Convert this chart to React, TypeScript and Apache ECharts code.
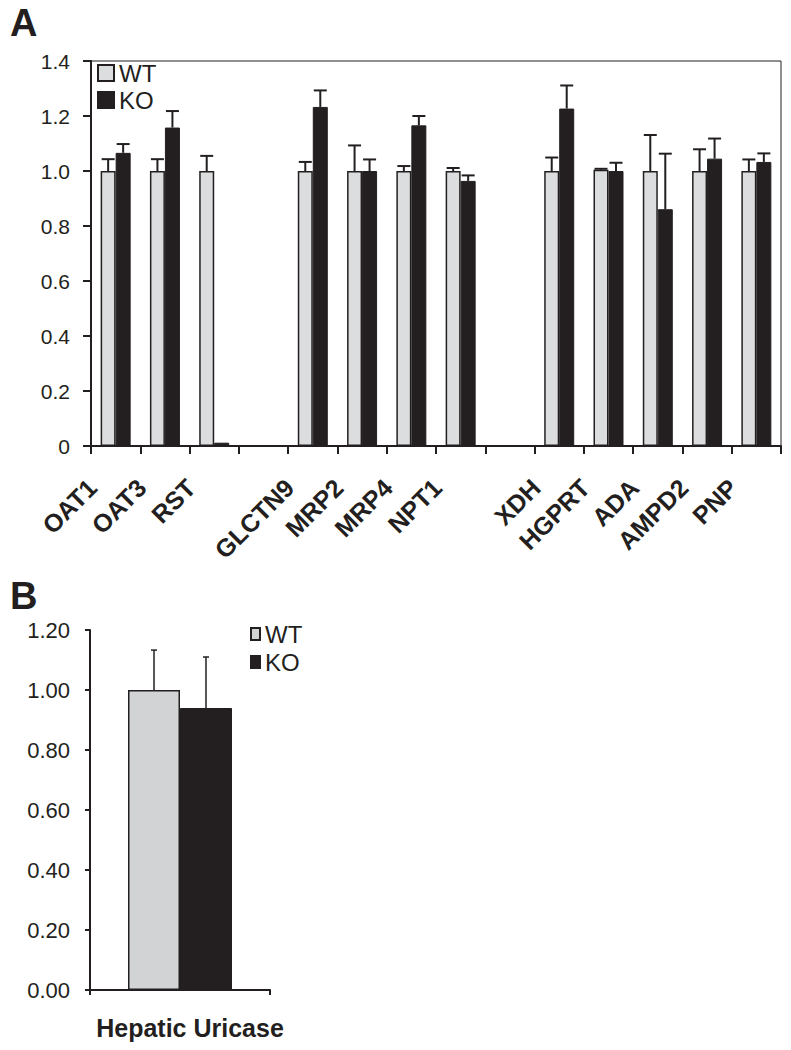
import React, { useEffect, useRef } from "react";
import * as echarts from "echarts";

// ---- Panel A data ----
const categoriesA = ["OAT1", "OAT3", "RST", "", "GLCTN9", "MRP2", "MRP4", "NPT1", "", "XDH", "HGPRT", "ADA", "AMPD2", "PNP"];
const wtA = [1.0, 1.0, 1.0, null, 1.0, 1.0, 1.0, 1.0, null, 1.0, 1.005, 1.0, 1.0, 1.0];
const wtErrA = [0.043, 0.043, 0.055, null, 0.033, 0.093, 0.018, 0.011, null, 0.049, 0.003, 0.131, 0.079, 0.042];
const koA = [1.066, 1.158, 0.012, null, 1.233, 1.0, 1.166, 0.964, null, 1.227, 1.0, 0.861, 1.045, 1.033];
const koErrA = [0.032, 0.06, 0, null, 0.06, 0.042, 0.034, 0.02, null, 0.084, 0.03, 0.202, 0.073, 0.031];
const yTicksA = { min: 0, max: 1.4, interval: 0.2 };

// ---- Panel B data ----
const categoriesB = ["Hepatic Uricase"];
const wtB = [1.0];
const wtErrB = [0.133];
const koB = [0.94];
const koErrB = [0.17];
const yTicksB = { min: 0, max: 1.2, interval: 0.2 };

const DARK = "#231f20";
const LIGHT_A = "#dcddde";
const LIGHT_B = "#d1d3d4";
const FONT = "'Liberation Sans', Arial, Helvetica, sans-serif";

function errData(means: (number | null)[], errs: (number | null)[]) {
  const out: number[][] = [];
  means.forEach((m, i) => {
    const e = errs[i];
    if (m != null && e != null && e > 0) out.push([i, m, e]);
  });
  return out;
}

function errRender(offset: number, capHalf: number, lw: number) {
  return (params: any, api: any) => {
    const x = api.value(0);
    const y = api.value(1);
    const e = api.value(2);
    const base = api.coord([x, y]);
    const top = api.coord([x, y + e]);
    const cx = base[0] + offset;
    const style = { stroke: DARK, lineWidth: lw };
    return {
      type: "group",
      children: [
        { type: "line", shape: { x1: cx, y1: base[1], x2: cx, y2: top[1] }, style },
        { type: "line", shape: { x1: cx - capHalf, y1: top[1], x2: cx + capHalf, y2: top[1] }, style },
      ],
    };
  };
}

export default function App() {
  const ref = useRef<HTMLDivElement>(null);
  useEffect(() => {
    if (!ref.current) return;
    const chart = echarts.init(ref.current, null, { renderer: "svg" });
    const option: any = {
      animation: false,
      backgroundColor: "#ffffff",
      textStyle: { fontFamily: FONT, color: DARK },
      title: [
        { text: "A", left: 10, top: 4, padding: 0, textStyle: { fontSize: 38, fontWeight: "bold", color: DARK, fontFamily: FONT } },
        { text: "B", left: 10, top: 577, padding: 0, textStyle: { fontSize: 38, fontWeight: "bold", color: DARK, fontFamily: FONT } },
      ],
      legend: [
        {
          data: ["WT", "KO"],
          icon: "rect",
          orient: "vertical",
          left: 97,
          top: 61,
          padding: 0,
          itemWidth: 16,
          itemHeight: 16,
          itemGap: 3,
          textStyle: { fontSize: 24, lineHeight: 24, color: DARK, fontFamily: FONT },
        },
        {
          data: ["WT_B", "KO_B"],
          icon: "rect",
          formatter: (n: string) => n.replace("_B", ""),
          orient: "vertical",
          left: 250,
          top: 622,
          padding: 0,
          itemWidth: 9,
          itemHeight: 12,
          itemGap: 4,
          textStyle: { fontSize: 24, lineHeight: 24, color: DARK, fontFamily: FONT },
        },
      ],
      grid: [
        { left: 91, top: 61, width: 690, height: 385, show: true, borderColor: DARK, borderWidth: 1, containLabel: false },
        { left: 90, top: 630, width: 180, height: 360, containLabel: false },
      ],
      xAxis: [
        {
          type: "category",
          gridIndex: 0,
          data: categoriesA,
          axisLine: { lineStyle: { color: DARK, width: 2 } },
          axisTick: { show: true, length: 8, lineStyle: { color: DARK, width: 2 } },
          axisLabel: {
            interval: 0,
            rotate: 45,
            margin: 14,
            padding: [0, 33, 0, 0],
            fontSize: 25,
            fontWeight: "bold",
            color: DARK,
            fontFamily: FONT,
          },
        },
        {
          type: "category",
          gridIndex: 1,
          data: categoriesB,
          axisLine: { lineStyle: { color: DARK, width: 2 } },
          axisTick: { show: true, length: 5, lineStyle: { color: DARK, width: 2 } },
          axisLabel: {
            margin: 25,
            padding: [0, 0, 0, 20],
            fontSize: 25,
            fontWeight: "bold",
            color: DARK,
            fontFamily: FONT,
          },
        },
      ],
      yAxis: [
        {
          type: "value",
          gridIndex: 0,
          min: yTicksA.min,
          max: yTicksA.max,
          interval: yTicksA.interval,
          splitLine: { show: false },
          axisLine: { show: true, lineStyle: { color: DARK, width: 2 } },
          axisTick: { show: true, length: 8, lineStyle: { color: DARK, width: 2 } },
          axisLabel: {
            margin: 21,
            fontSize: 21,
            color: DARK,
            fontFamily: FONT,
            formatter: (v: number) => (v === 0 ? "0" : v.toFixed(1)),
          },
        },
        {
          type: "value",
          gridIndex: 1,
          min: yTicksB.min,
          max: yTicksB.max,
          interval: yTicksB.interval,
          splitLine: { show: false },
          axisLine: { show: true, lineStyle: { color: DARK, width: 2 } },
          axisTick: { show: true, length: 5, lineStyle: { color: DARK, width: 2 } },
          axisLabel: {
            margin: 20,
            fontSize: 22,
            color: DARK,
            fontFamily: FONT,
            formatter: (v: number) => v.toFixed(2),
          },
        },
      ],
      series: [
        {
          name: "WT",
          type: "bar",
          xAxisIndex: 0,
          yAxisIndex: 0,
          data: wtA,
          barWidth: 15,
          barGap: "0%",
          itemStyle: { color: LIGHT_A, borderColor: DARK, borderWidth: 1.5 },
        },
        {
          name: "KO",
          type: "bar",
          xAxisIndex: 0,
          yAxisIndex: 0,
          data: koA,
          barWidth: 15,
          barGap: "0%",
          itemStyle: { color: DARK, borderColor: DARK, borderWidth: 1 },
        },
        {
          type: "custom",
          xAxisIndex: 0,
          yAxisIndex: 0,
          data: errData(wtA, wtErrA),
          encode: { x: 0, y: 1 },
          renderItem: errRender(-7.5, 6.5, 2),
          z: 5,
        },
        {
          type: "custom",
          xAxisIndex: 0,
          yAxisIndex: 0,
          data: errData(koA, koErrA),
          encode: { x: 0, y: 1 },
          renderItem: errRender(7.5, 6.5, 2),
          z: 5,
        },
        {
          name: "WT_B",
          type: "bar",
          xAxisIndex: 1,
          yAxisIndex: 1,
          data: wtB,
          barWidth: 52,
          barGap: "0%",
          itemStyle: { color: LIGHT_B, borderColor: DARK, borderWidth: 1.5 },
        },
        {
          name: "KO_B",
          type: "bar",
          xAxisIndex: 1,
          yAxisIndex: 1,
          data: koB,
          barWidth: 52,
          barGap: "0%",
          itemStyle: { color: DARK, borderColor: DARK, borderWidth: 1 },
        },
        {
          type: "custom",
          xAxisIndex: 1,
          yAxisIndex: 1,
          data: errData(wtB, wtErrB),
          encode: { x: 0, y: 1 },
          renderItem: errRender(-26, 3, 1.5),
          z: 5,
        },
        {
          type: "custom",
          xAxisIndex: 1,
          yAxisIndex: 1,
          data: errData(koB, koErrB),
          encode: { x: 0, y: 1 },
          renderItem: errRender(26, 3, 1.5),
          z: 5,
        },
      ],
    };
    chart.setOption(option);
    return () => chart.dispose();
  }, []);
  return (
    <div
      ref={ref}
      style={{ position: "absolute", left: 0, top: 0, width: 791, height: 1050, background: "#fff" }}
    />
  );
}
